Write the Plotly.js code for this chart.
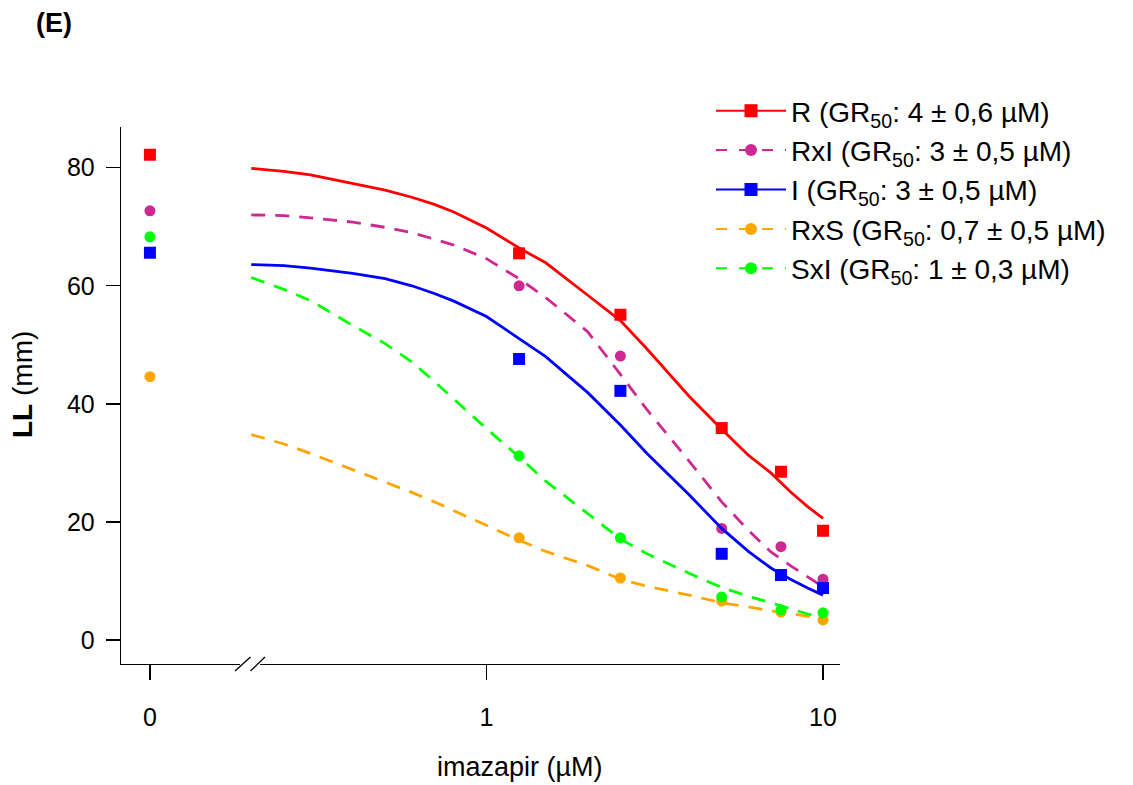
<!DOCTYPE html>
<html>
<head>
<meta charset="utf-8">
<script src="https://cdn.plot.ly/plotly-3.0.1.min.js"></script>
<style>html,body{margin:0;padding:0;background:#fff;}#chart{width:1133px;height:785px;}</style>
</head>
<body>
<div id="chart"></div>
<script>
// Observed doses (µM); the control dose 0 is drawn at 0.1 on the log axis (after the axis break)
const doseObs = [0.1, 1.25, 2.5, 5, 7.5, 10];
const R_obs   = [82.2, 65.5, 55.1, 35.9, 28.5, 18.5];
const RxI_obs = [72.7, 60.0, 48.1, 18.9, 15.8, 10.3];
const I_obs   = [65.6, 47.6, 42.2, 14.6, 11.0, 8.8];
const RxS_obs = [44.6, 17.3, 10.5, 6.6, 4.7, 3.4];
const SxI_obs = [68.3, 31.2, 17.3, 7.3, 5.1, 4.6];

// Fitted curves
const doseFit = [0.2, 0.25, 0.3, 0.4, 0.5, 0.6, 0.7, 0.8, 1, 1.25, 1.5, 2, 2.5, 3, 4, 5, 6, 7, 8, 9, 10];
const R_fit   = [79.9, 79.4, 78.8, 77.4, 76.2, 75.0, 73.8, 72.5, 69.8, 66.4, 63.9, 58.4, 54.1, 49.3, 41.3, 35.7, 31.3, 28.3, 25.1, 22.6, 20.6];
const RxI_fit = [72.0, 71.9, 71.5, 70.8, 69.9, 69.0, 67.9, 66.9, 64.6, 61.2, 58.0, 52.2, 45.0, 39.0, 30.3, 23.4, 18.6, 14.9, 12.6, 10.7, 9.0];
const I_fit   = [63.6, 63.4, 63.0, 62.1, 61.2, 60.0, 58.7, 57.4, 54.8, 51.0, 48.0, 41.9, 36.4, 31.6, 24.6, 18.9, 15.0, 12.2, 10.3, 8.8, 7.6];
const RxS_fit = [34.8, 33.2, 31.6, 28.9, 26.7, 25.0, 23.4, 21.9, 19.4, 16.9, 15.0, 12.6, 10.3, 9.1, 7.6, 6.3, 5.6, 4.9, 4.5, 4.0, 3.7];
const SxI_fit = [61.4, 59.4, 57.5, 53.3, 50.2, 47.1, 43.8, 40.8, 35.8, 31.0, 26.9, 21.4, 17.1, 14.6, 11.3, 8.9, 7.4, 6.3, 5.3, 4.4, 3.8];

const seriesNames = [
  'R (GR<sub>50</sub>: 4 ± 0,6 µM)',
  'RxI (GR<sub>50</sub>: 3 ± 0,5 µM)',
  'I (GR<sub>50</sub>: 3 ± 0,5 µM)',
  'RxS (GR<sub>50</sub>: 0,7 ± 0,5 µM)',
  'SxI (GR<sub>50</sub>: 1 ± 0,3 µM)'
];
const xTickVals = [0.1, 1, 10];
const xTickText = ['0', '1', '10'];
const yTickVals = [0, 20, 40, 60, 80];

const colors  = ['#FF0000', '#CD2990', '#0000FF', '#FFA500', '#00FF00'];
const dashes  = ['solid', '14px,10px', 'solid', '14px,10px', '14px,10px'];
const symbols = ['square', 'circle', 'square', 'circle', 'circle'];
const sizes   = [12, 11, 12, 11, 11];
const obs = [R_obs, RxI_obs, I_obs, RxS_obs, SxI_obs];
const fit = [R_fit, RxI_fit, I_fit, RxS_fit, SxI_fit];

const FONT = 'Liberation Sans, Arial, Helvetica, sans-serif';
const traces = [];
for (let i = 0; i < 5; i++) {
  traces.push({
    x: doseFit, y: fit[i], mode: 'lines', type: 'scatter',
    line: {color: colors[i], width: 2.8, dash: dashes[i]},
    showlegend: false, hoverinfo: 'skip', legendgroup: 'g' + i
  });
  traces.push({
    x: doseObs, y: obs[i], mode: 'markers', type: 'scatter',
    marker: {color: colors[i], symbol: symbols[i], size: sizes[i]},
    showlegend: false, legendgroup: 'g' + i
  });
}
// legend entries (line + marker)
for (let i = 0; i < 5; i++) {
  traces.push({
    x: [null], y: [null], mode: 'lines+markers', type: 'scatter',
    name: seriesNames[i], legendgroup: 'g' + i,
    line: {color: colors[i], width: 2, dash: dashes[i] === 'solid' ? 'solid' : '11px,12px'},
    marker: {color: colors[i], symbol: symbols[i], size: sizes[i] + 1}
  });
}

// plot area in pixels: x 121..840, y 127..664
const L = 121, R = 840, T = 127, B = 664;
const px2paperX = p => (p - L) / (R - L);
const px2paperY = p => (B - p) / (B - T);

const layout = {
  width: 1133, height: 785,
  margin: {l: L, r: 1133 - R, t: T, b: 785 - B},
  paper_bgcolor: '#fff', plot_bgcolor: '#fff',
  font: {family: FONT, color: '#000', size: 25},
  showlegend: true,
  legend: {
    x: px2paperX(711), y: px2paperY(86), xanchor: 'left', yanchor: 'top',
    font: {family: FONT, size: 28, color: '#000'},
    bgcolor: 'rgba(0,0,0,0)', borderwidth: 0, itemwidth: 70,
    tracegroupgap: 0
  },
  xaxis: {
    type: 'log', range: [-1.086, 1.0505],
    showline: true, linecolor: '#000', linewidth: 1.3,
    ticks: 'outside', ticklen: 15, tickwidth: 1.3, tickcolor: '#000',
    tickvals: xTickVals, ticktext: xTickText,
    tickfont: {family: FONT, size: 25},
    showgrid: false, zeroline: false, ticklabelstandoff: 16
  },
  yaxis: {
    range: [-4.07, 86.9],
    showline: true, linecolor: '#000', linewidth: 1.3,
    ticks: 'outside', ticklen: 14, tickwidth: 1.3, tickcolor: '#000',
    tickvals: yTickVals,
    tickfont: {family: FONT, size: 25},
    showgrid: false, zeroline: false, ticklabelstandoff: 6
  },
  shapes: [
    // axis break
    {type: 'rect', xref: 'paper', yref: 'paper', layer: 'above',
     x0: px2paperX(240), x1: px2paperX(260), y0: px2paperY(667), y1: px2paperY(661),
     fillcolor: '#fff', line: {width: 0}},
    {type: 'line', xref: 'paper', yref: 'paper', layer: 'above',
     x0: px2paperX(235), y0: px2paperY(671), x1: px2paperX(250.5), y1: px2paperY(657),
     line: {color: '#000', width: 1.3}},
    {type: 'line', xref: 'paper', yref: 'paper', layer: 'above',
     x0: px2paperX(250.5), y0: px2paperY(671), x1: px2paperX(265), y1: px2paperY(657),
     line: {color: '#000', width: 1.3}}
  ],
  annotations: [
    {text: '<b>(E)</b>', xref: 'paper', yref: 'paper', x: px2paperX(34), y: px2paperY(23),
     xanchor: 'left', yanchor: 'middle', showarrow: false,
     font: {family: FONT, size: 27, color: '#000'}},
    {text: 'imazapir (µM)', xref: 'paper', yref: 'paper', x: px2paperX(520), y: px2paperY(767),
     xanchor: 'center', yanchor: 'middle', showarrow: false,
     font: {family: FONT, size: 27, color: '#000'}},
    {text: '<b>LL</b> (mm)', xref: 'paper', yref: 'paper', x: px2paperX(22), y: px2paperY(385),
     xanchor: 'center', yanchor: 'middle', showarrow: false, textangle: -90,
     font: {family: FONT, size: 28, color: '#000'}}
  ]
};

Plotly.newPlot('chart', traces, layout, {displayModeBar: false, staticPlot: true});
</script>
</body>
</html>
